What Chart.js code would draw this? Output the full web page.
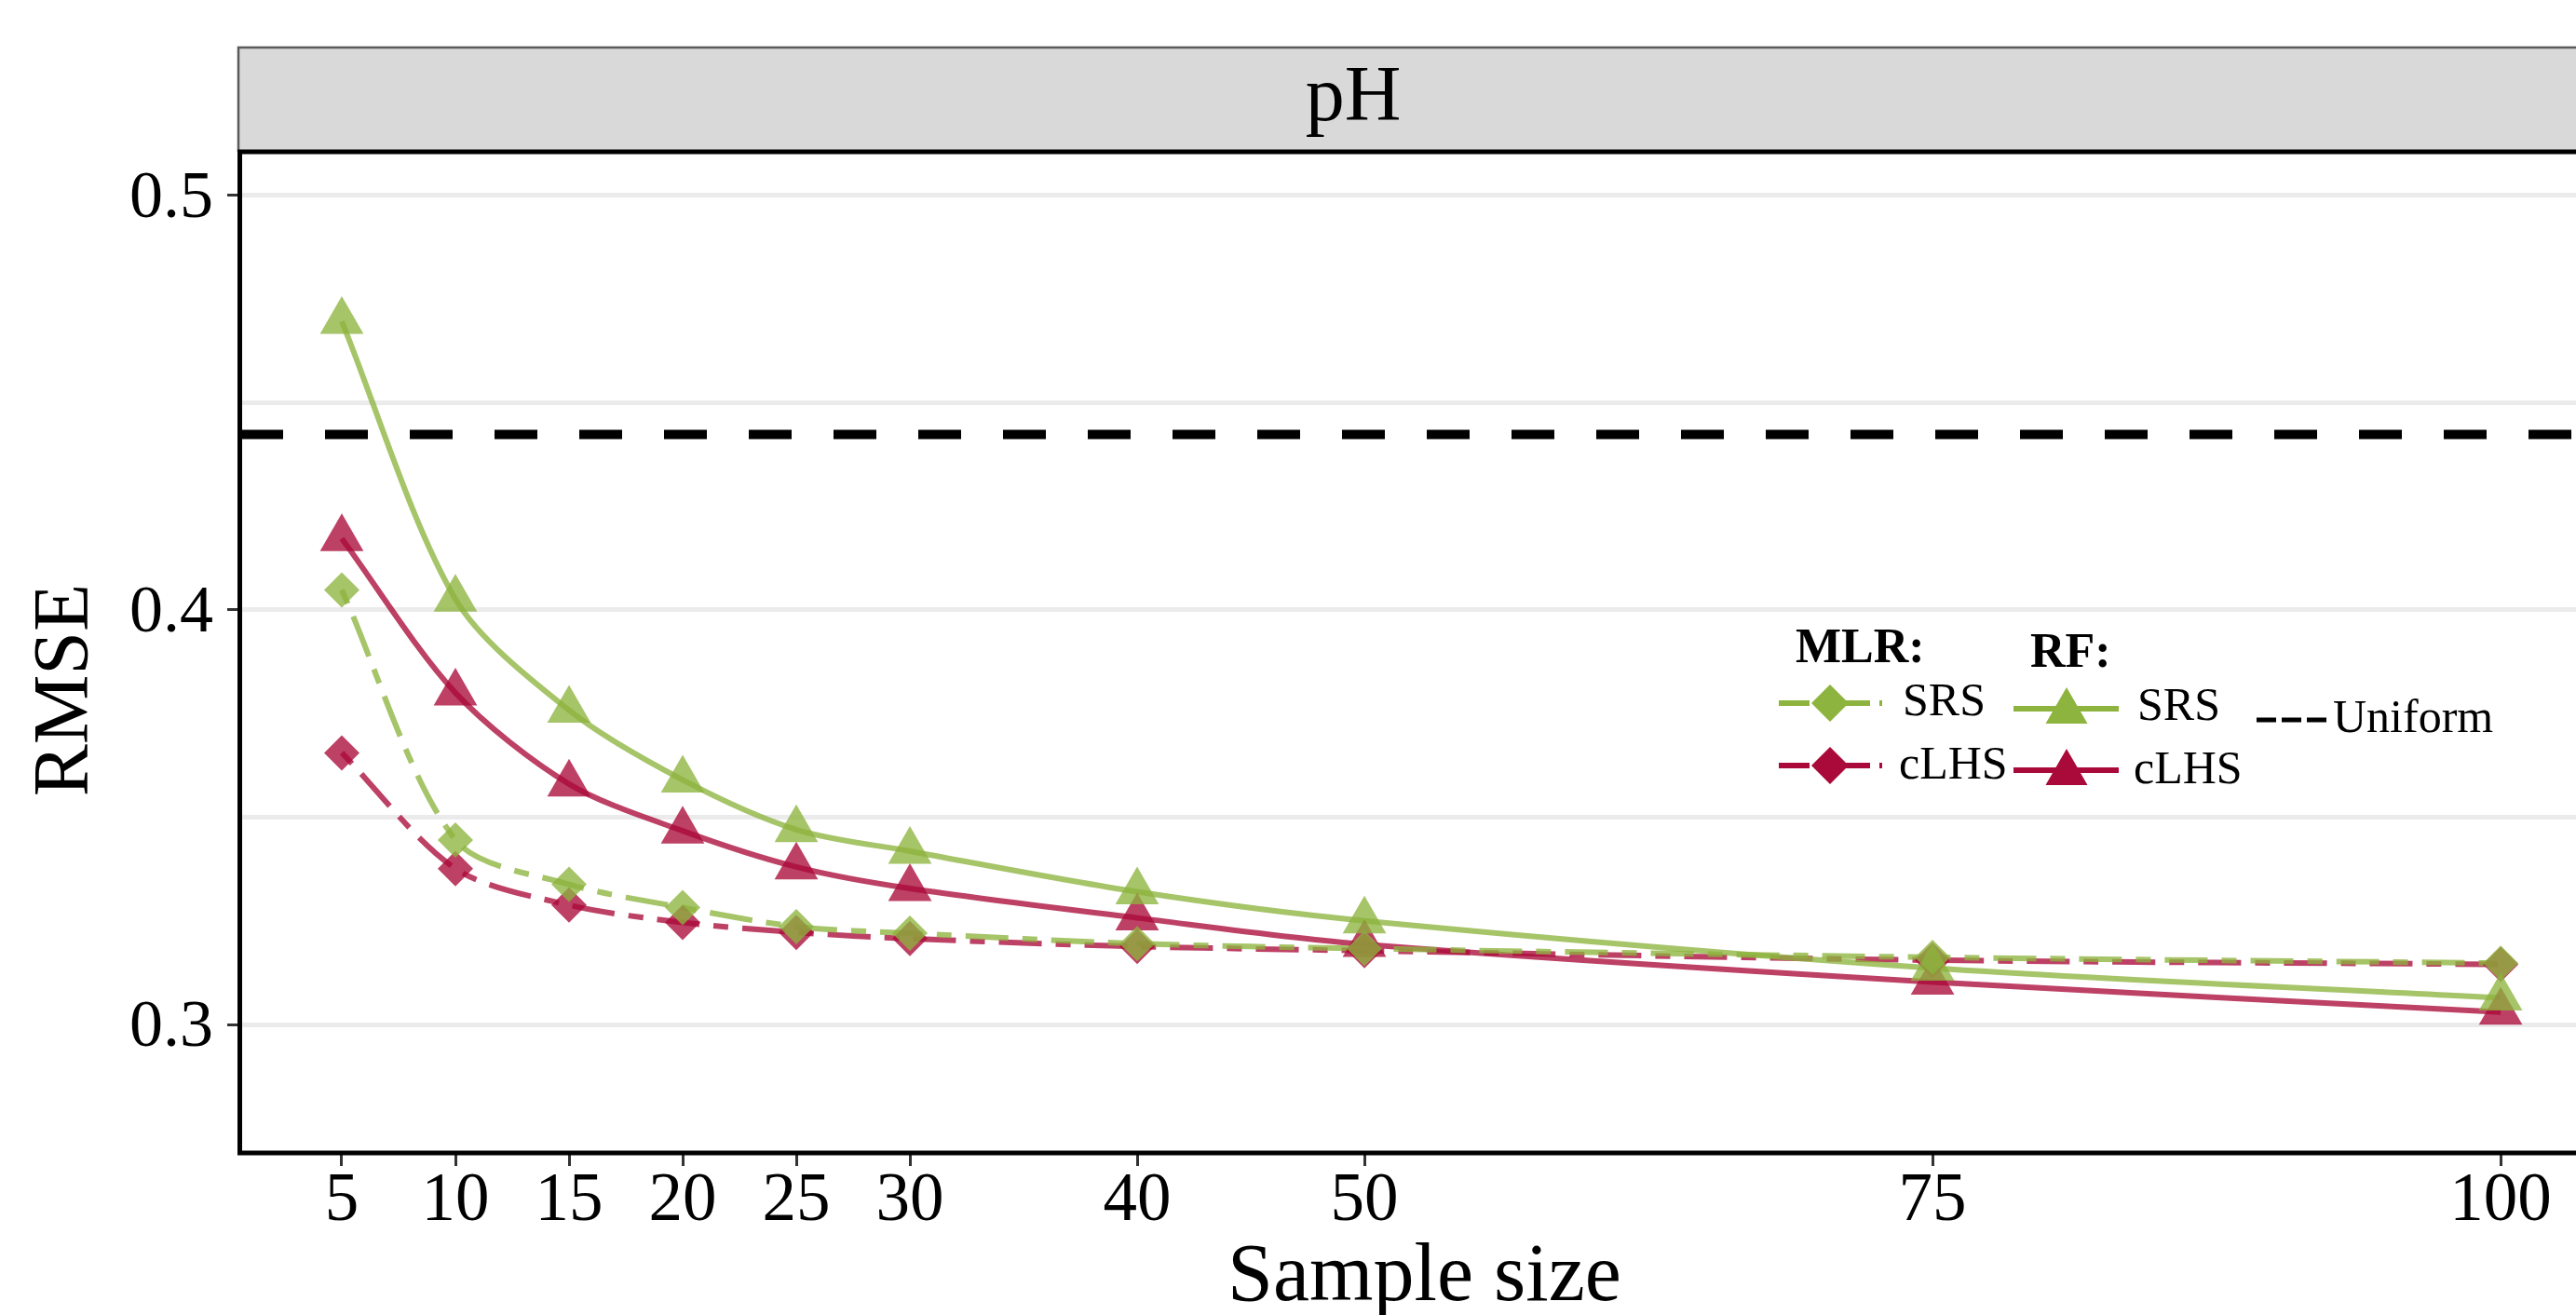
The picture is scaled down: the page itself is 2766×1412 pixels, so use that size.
<!DOCTYPE html>
<html><head><meta charset="utf-8">
<script src="https://cdn.jsdelivr.net/npm/chart.js@4.4.1/dist/chart.umd.min.js"></script>
<style>
html,body{margin:0;padding:0;background:#fff;overflow:hidden;}
#wrap{position:relative;width:2830px;height:1412px;}
</style></head><body>
<div id="wrap"><canvas id="c"></canvas></div>
<script>
// ---------------- data ----------------
const sampleSizes = [5, 10, 15, 20, 25, 30, 40, 50, 75, 100];
const mlrSRS  = [0.4048, 0.3445, 0.3338, 0.3282, 0.3236, 0.3220, 0.3195, 0.3183, 0.3162, 0.3148];
const mlrCLHS = [0.3655, 0.3376, 0.3288, 0.3246, 0.3222, 0.3207, 0.3188, 0.3178, 0.3155, 0.3145];
const rfSRS   = [0.4696, 0.4026, 0.3758, 0.3590, 0.3470, 0.3418, 0.3320, 0.3250, 0.3136, 0.3064];
const rfCLHS  = [0.4172, 0.3800, 0.3580, 0.3467, 0.3380, 0.3328, 0.3257, 0.3193, 0.3102, 0.3030];
const uniformRMSE = 0.4423;
const yTickValues = [0.3, 0.35, 0.4, 0.45, 0.5];
const yTickLabels = ['0.3', '', '0.4', '', '0.5'];
const xRange = [0.533, 104.75];
const yRange = [0.269, 0.5105];
const panelTitle = 'pH';
const xTitle = 'Sample size';
const yTitle = 'RMSE';

// ---------------- styles ----------------
const SERIF = "'Liberation Serif', 'Times New Roman', serif";
const GREEN = '141,180,62';
const RED = '170,10,58';
const ALPHA = 0.78;
const rgba = (c, a) => `rgba(${c},${a})`;
const MLR_DASH = [16, 15, 46, 15];

function pts(arr) { return sampleSizes.map((x, i) => ({ x: x, y: arr[i] })); }

function pointSet(label, arr, col, style, r) {
  return { label, data: pts(arr), showLine: false, pointStyle: style, pointRadius: r, pointHoverRadius: r,
    pointBackgroundColor: rgba(col, ALPHA), pointBorderWidth: 0, pointHoverBorderWidth: 0,
    backgroundColor: rgba(col, ALPHA), borderColor: rgba(col, ALPHA) };
}
function lineSet(label, arr, col, dash) {
  return { label, data: pts(arr), showLine: true, pointRadius: 0, pointHoverRadius: 0,
    borderColor: rgba(col, ALPHA), borderWidth: 6, borderDash: dash, borderCapStyle: 'butt',
    tension: 0.3, fill: false };
}

const datasets = [
  pointSet('RF SRS', rfSRS, GREEN, 'triangle', 27),
  pointSet('MLR SRS', mlrSRS, GREEN, 'rectRot', 19),
  pointSet('RF cLHS', rfCLHS, RED, 'triangle', 27),
  pointSet('MLR cLHS', mlrCLHS, RED, 'rectRot', 19),
  lineSet('RF SRS line', rfSRS, GREEN, []),
  lineSet('MLR SRS line', mlrSRS, GREEN, MLR_DASH),
  lineSet('RF cLHS line', rfCLHS, RED, []),
  lineSet('MLR cLHS line', mlrCLHS, RED, MLR_DASH),
  { label: 'Uniform', data: [{ x: xRange[0], y: uniformRMSE }, { x: xRange[1], y: uniformRMSE }],
    showLine: true, pointRadius: 0, pointHoverRadius: 0, borderColor: '#000', borderWidth: 10,
    borderDash: [46, 45], borderCapStyle: 'butt', fill: false }
];

// ---------------- decorations (strip, border, y title, legend) ----------------
const decor = {
  id: 'decor',
  afterDraw(chart) {
    const ctx = chart.ctx, a = chart.chartArea, W = chart.width;
    ctx.save();
    // strip
    ctx.fillStyle = '#D9D9D9';
    ctx.fillRect(256, 50, W - 256, a.top - 50);
    ctx.strokeStyle = '#5a5a5a'; ctx.lineWidth = 2.5;
    ctx.beginPath(); ctx.moveTo(256, a.top); ctx.lineTo(256, 51); ctx.lineTo(W, 51); ctx.stroke();
    ctx.fillStyle = '#000';
    ctx.font = `84px ${SERIF}`; ctx.textAlign = 'center'; ctx.textBaseline = 'alphabetic';
    ctx.fillText(panelTitle, 1453, 129);
    // panel border
    ctx.strokeStyle = '#000'; ctx.lineWidth = 5;
    ctx.beginPath();
    ctx.moveTo(W, a.top); ctx.lineTo(a.left - 0.5, a.top); ctx.lineTo(a.left - 0.5, a.bottom); ctx.lineTo(W, a.bottom);
    ctx.stroke();
    // y title
    ctx.save();
    ctx.translate(72, 741); ctx.rotate(-Math.PI / 2);
    ctx.font = `84px ${SERIF}`; ctx.textAlign = 'center'; ctx.textBaseline = 'middle';
    ctx.fillText(yTitle, 0, 0);
    ctx.restore();

    // legend
    const line = (x1, x2, y, col, dash, w) => {
      ctx.save(); ctx.strokeStyle = col; ctx.lineWidth = w; ctx.setLineDash(dash); ctx.lineCap = 'butt';
      ctx.beginPath(); ctx.moveTo(x1, y); ctx.lineTo(x2, y); ctx.stroke(); ctx.restore();
    };
    const diamond = (x, y, r, col) => {
      ctx.fillStyle = col; ctx.beginPath();
      ctx.moveTo(x - r, y); ctx.lineTo(x, y - r); ctx.lineTo(x + r, y); ctx.lineTo(x, y + r); ctx.closePath(); ctx.fill();
    };
    const tri = (x, y, r, col) => {
      ctx.fillStyle = col; ctx.beginPath();
      ctx.moveTo(x, y - r); ctx.lineTo(x + 0.866 * r, y + 0.5 * r); ctx.lineTo(x - 0.866 * r, y + 0.5 * r); ctx.closePath(); ctx.fill();
    };
    const txt = (s, x, y, bold) => {
      ctx.fillStyle = '#000'; ctx.font = `${bold ? 'bold ' : ''}${bold ? 52 : 50}px ${SERIF}`;
      ctx.textAlign = 'left'; ctx.textBaseline = 'alphabetic'; ctx.fillText(s, x, y);
    };
    const legDash = [33, 10, 12, 10];
    txt('MLR:', 1928, 711, true);
    txt('RF:', 2180, 716, true);
    line(1910, 2021, 755, rgba(GREEN, 1), legDash, 6); diamond(1965, 755, 20, rgba(GREEN, 1)); txt('SRS', 2043, 768);
    line(1910, 2021, 822, rgba(RED, 1), legDash, 6); diamond(1965, 822, 20, rgba(RED, 1)); txt('cLHS', 2039, 836);
    line(2162, 2275, 761, rgba(GREEN, 1), [], 6); tri(2219, 764, 26, rgba(GREEN, 1)); txt('SRS', 2295, 773);
    line(2162, 2275, 827, rgba(RED, 1), [], 6); tri(2219, 830, 26, rgba(RED, 1)); txt('cLHS', 2291, 841);
    line(2423, 2500, 773, '#000', [21, 6], 5); txt('Uniform', 2505, 786);
    ctx.restore();
  }
};

new Chart(document.getElementById('c'), {
  type: 'scatter',
  data: { datasets },
  options: {
    responsive: true, maintainAspectRatio: false, animation: false, events: [],
    layout: { padding: { top: 163, left: 0, right: 29, bottom: 0 } },
    plugins: { legend: { display: false }, tooltip: { enabled: false }, title: { display: false } },
    scales: {
      x: {
        type: 'linear', min: xRange[0], max: xRange[1],
        afterBuildTicks: s => { s.ticks = sampleSizes.map(v => ({ value: v })); },
        afterFit: s => { s.height = 174; },
        ticks: { autoSkip: false, maxRotation: 0, minRotation: 0, color: '#000', padding: 2,
          font: { family: SERIF, size: 73, lineHeight: 1 }, callback: v => String(v) },
        grid: { drawOnChartArea: false, drawTicks: true, tickLength: 14, tickWidth: 3, tickColor: '#333', color: 'rgba(0,0,0,0)' },
        border: { display: false },
        title: { display: true, text: xTitle, color: '#000', font: { family: SERIF, size: 88, lineHeight: 0.88 }, padding: { top: 0, bottom: 0 } }
      },
      y: {
        type: 'linear', min: yRange[0], max: yRange[1],
        afterBuildTicks: s => { s.ticks = yTickValues.map(v => ({ value: v })); },
        afterFit: s => { s.width = 258; },
        ticks: { autoSkip: false, color: '#000', padding: 15, labelOffset: 4,
          font: { family: SERIF, size: 72, lineHeight: 1 }, callback: (v, i) => yTickLabels[i] },
        grid: { color: '#EBEBEB', lineWidth: 5, drawTicks: true, tickLength: 14, tickWidth: 3,
          tickColor: c => (yTickLabels[c.index] ? '#333' : 'rgba(0,0,0,0)') },
        border: { display: false }
      }
    }
  },
  plugins: [decor]
});
</script>
</body></html>
